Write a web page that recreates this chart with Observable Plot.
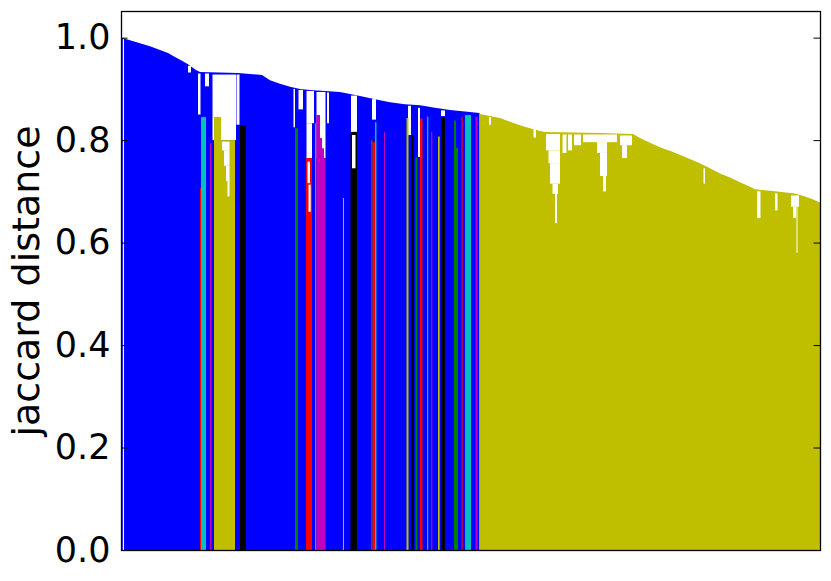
<!DOCTYPE html>
<html>
<head>
<meta charset="utf-8">
<script src="https://cdn.jsdelivr.net/npm/d3@7"></script>
<script src="https://cdn.jsdelivr.net/npm/@observablehq/plot@0.6"></script>
<style>
  body { margin: 0; background: #fff; }
  svg { font-family: "DejaVu Sans", sans-serif; }
</style>
</head>
<body>
<div id="chart"></div>
<script>
// Leaf-order position (arbitrary units along the dendrogram leaves) and jaccard distance
const xDomain = [0, 699];
const yDomain = [0, 1.052];
const yTicks = [0, 0.2, 0.4, 0.6, 0.8, 1.0];
const yLabel = "jaccard distance";

// colour codes (matplotlib classic)
const palette = {b: "#0000ff", y: "#bfbf00", g: "#008000", r: "#ff0000", c: "#00bfbf", m: "#bf00bf", k: "#000000"};

// Top envelope of the above-threshold (blue) part of the tree
const blueEnvPos  = [0, 4, 9, 19, 29, 39, 47, 54, 61, 67, 75, 79, 117, 129, 141, 149, 159, 169, 179, 189, 204, 219, 229, 239, 254, 269, 284, 299, 314, 329, 344, 358.5];
const blueEnvDist = [1.0, 0.998, 0.995, 0.989, 0.983, 0.976, 0.970, 0.962, 0.955, 0.948, 0.937, 0.933, 0.931, 0.929, 0.927, 0.917, 0.910, 0.904, 0.900, 0.898, 0.896, 0.894, 0.890, 0.886, 0.880, 0.874, 0.870, 0.868, 0.863, 0.859, 0.856, 0.853];

// Top envelope of the large yellow cluster
const yellowEnvPos  = [358.5, 369, 379, 389, 399, 409, 419, 424, 479, 512, 519, 529, 539, 552, 564, 579, 589, 599, 609, 619, 629, 634, 654, 674, 684, 691, 699];
const yellowEnvDist = [0.851, 0.847, 0.843, 0.836, 0.829, 0.823, 0.818, 0.816, 0.814, 0.812, 0.804, 0.795, 0.786, 0.777, 0.767, 0.755, 0.745, 0.735, 0.727, 0.718, 0.709, 0.704, 0.700, 0.696, 0.690, 0.685, 0.678];

// Small coloured clusters inside the blue part: start, end, merge height, colour
const clusterStart = [79, 80, 89, 93, 100, 119, 174, 185, 194, 195.3, 199, 201, 203, 222, 229.5, 250, 251.5, 254, 263, 285.5, 290, 294.5, 299, 306, 310, 317, 320, 333, 335, 340.5, 344, 354.5];
const clusterEnd   = [80, 85, 90.5, 100, 114, 125, 177, 191, 195.3, 199, 201, 203, 204.5, 223, 236, 251.5, 254, 255.5, 264, 287.5, 292.7, 296.5, 301.5, 307.3, 311.3, 318.7, 324, 335, 337, 341.7, 350, 356.5];
const clusterDist  = [0.706, 0.845, 0.794, 0.845, 0.80, 0.829, 0.823, 0.765, 0.833, 0.849, 0.804, 0.784, 0.765, 0.687, 0.816, 0.80, 0.796, 0.835, 0.816, 0.843, 0.81, 0.766, 0.842, 0.846, 0.816, 0.807, 0.845, 0.838, 0.785, 0.845, 0.849, 0.845];
const clusterColor = ["r", "c", "m", "y", "y", "k", "g", "r", "c", "m", "m", "m", "m", "y", "k", "g", "r", "c", "m", "y", "k", "g", "r", "c", "m", "y", "k", "g", "g", "r", "c", "m"];

// Empty space under links in the blue part: start, end, top (under link), bottom (subtree top)
const blueGapStart  = [1.8, 67, 77, 84, 91.5, 115.5, 172.5, 177.5, 185.5, 185.5, 195.5, 206, 230, 251, 287, 297, 320];
const blueGapEnd    = [3, 70, 79.5, 88, 115, 118.5, 174, 182, 193, 191, 204.5, 208, 236, 255, 290, 299, 324];
const blueGapTop    = [0.997, 0.945, 0.93, 0.93, 0.928, 0.928, 0.9, 0.898, 0.896, 0.833, 0.894, 0.893, 0.887, 0.88, 0.867, 0.863, 0.858];
const blueGapBottom = [0, 0.932, 0.85, 0.905, 0.80, 0.83, 0.825, 0.86, 0.833, 0.765, 0.765, 0.833, 0.816, 0.84, 0.81, 0.767, 0.847];

// Empty space under links inside small clusters
const innerGapStart  = [101, 103, 105, 106.5, 231, 186.5, 187.5];
const innerGapEnd    = [108.5, 108.5, 108.5, 108.5, 234.5, 189, 189.7];
const innerGapTop    = [0.797, 0.78, 0.75, 0.72, 0.81, 0.758, 0.713];
const innerGapBottom = [0.78, 0.75, 0.72, 0.69, 0.745, 0.716, 0.66];

// Empty space under links in the yellow cluster
const yellowGapStart  = [425, 427.5, 429, 431.5, 434, 441.5, 447, 453, 462, 476, 479, 482, 499, 501, 412.5, 368, 636, 654, 670, 672, 675.5, 582.5];
const yellowGapEnd    = [439, 439, 439, 437, 436, 445.5, 451, 460, 496, 486, 486, 485, 511, 506, 415, 370, 639.5, 656.5, 678, 675, 676.5, 584];
const yellowGapTop    = [0.812, 0.78, 0.755, 0.715, 0.695, 0.811, 0.811, 0.811, 0.811, 0.796, 0.775, 0.73, 0.809, 0.79, 0.823, 0.845, 0.700, 0.696, 0.692, 0.67, 0.67, 0.745];
const yellowGapBottom = [0.78, 0.755, 0.715, 0.695, 0.638, 0.775, 0.78, 0.79, 0.796, 0.775, 0.73, 0.70, 0.79, 0.765, 0.805, 0.83, 0.648, 0.663, 0.67, 0.648, 0.58, 0.715];

// ---- build tables from the arrays ----
const env = (xs, ys) => xs.map((x, i) => ({pos: x, dist: ys[i]}));
const gaps = (s, e, t, b) => s.map((x, i) => ({x1: x, x2: e[i], top: t[i], bottom: b[i]}));
const blueEnv = env(blueEnvPos, blueEnvDist);
const yellowEnv = env(yellowEnvPos, yellowEnvDist);
const clusters = clusterStart.map((x, i) => ({x1: x, x2: clusterEnd[i], dist: clusterDist[i], color: palette[clusterColor[i]]}));
const blueGaps = gaps(blueGapStart, blueGapEnd, blueGapTop, blueGapBottom);
const innerGaps = gaps(innerGapStart, innerGapEnd, innerGapTop, innerGapBottom);
const yellowGaps = gaps(yellowGapStart, yellowGapEnd, yellowGapTop, yellowGapBottom);

const tickLen = 6.5;

const chart = Plot.plot({
  width: 831,
  height: 581,
  marginLeft: 121,
  marginRight: 11,
  marginTop: 11,
  marginBottom: 31,
  x: {domain: xDomain, axis: null},
  y: {domain: yDomain, axis: null},
  marks: [
    Plot.areaY(blueEnv, {x: "pos", y: "dist", fill: palette.b, curve: "linear"}),
    Plot.areaY(yellowEnv, {x: "pos", y: "dist", fill: palette.y, curve: "linear"}),
    Plot.rect(blueGaps, {x1: "x1", x2: "x2", y1: "bottom", y2: "top", fill: "white"}),
    Plot.rect(yellowGaps, {x1: "x1", x2: "x2", y1: "bottom", y2: "top", fill: "white"}),
    Plot.rect(clusters, {x1: "x1", x2: "x2", y1: 0, y2: "dist", fill: "color"}),
    Plot.rect(innerGaps, {x1: "x1", x2: "x2", y1: "bottom", y2: "top", fill: "white"}),
    Plot.axisY({ticks: yTicks, tickFormat: d => d.toFixed(1), tickSize: 0, tickPadding: 11, fontSize: 35, label: null, fill: "black"}),
    Plot.ruleY(yTicks, {y: d => d, x1: xDomain[0], x2: xDomain[0] + tickLen, stroke: "black", strokeWidth: 1}),
    Plot.ruleY(yTicks, {y: d => d, x1: xDomain[1] - tickLen, x2: xDomain[1], stroke: "black", strokeWidth: 1}),
    Plot.text([yLabel], {text: d => d, frameAnchor: "left", textAnchor: "middle", lineAnchor: "middle", rotate: -90, dx: -95, fontSize: 38, fill: "black"}),
    Plot.frame({stroke: "black", strokeWidth: 1.3})
  ]
});
document.getElementById("chart").appendChild(chart);
</script>
</body>
</html>
